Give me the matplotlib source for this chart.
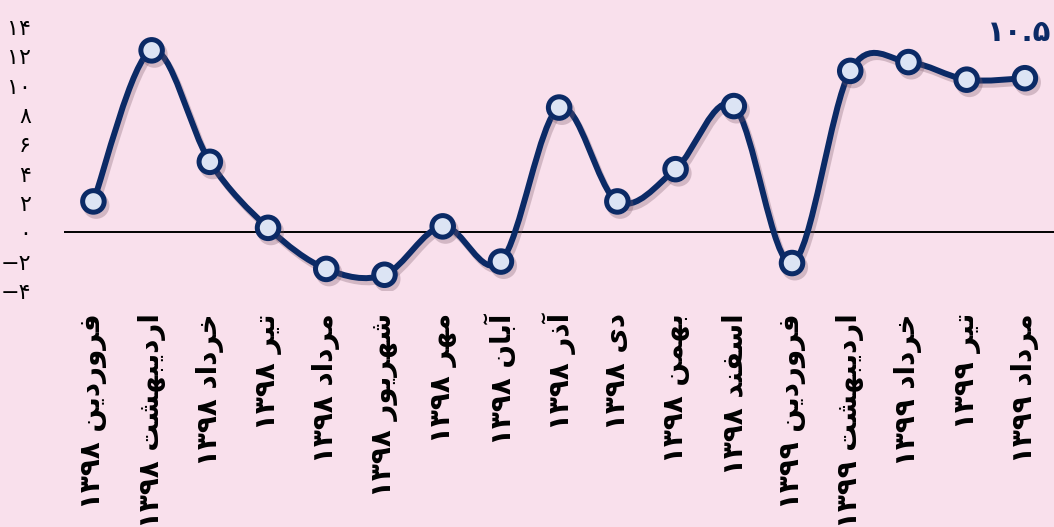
import matplotlib
matplotlib.use("Agg")
import matplotlib.pyplot as plt
import matplotlib.patheffects as pe
from matplotlib.path import Path
from matplotlib.patches import PathPatch

# Data
months = ["فروردین ۱۳۹۸", "اردیبهشت ۱۳۹۸", "خرداد ۱۳۹۸", "تیر ۱۳۹۸", "مرداد ۱۳۹۸",
          "شهریور ۱۳۹۸", "مهر ۱۳۹۸", "آبان ۱۳۹۸", "آذر ۱۳۹۸", "دی ۱۳۹۸",
          "بهمن ۱۳۹۸", "اسفند ۱۳۹۸", "فروردین ۱۳۹۹", "اردیبهشت ۱۳۹۹",
          "خرداد ۱۳۹۹", "تیر ۱۳۹۹", "مرداد ۱۳۹۹"]
values = [2.1, 12.4, 4.8, 0.3, -2.5, -2.9, 0.4, -2.0, 8.5, 2.1,
          4.3, 8.6, -2.1, 11.0, 11.6, 10.4, 10.5]
yticks = [-4, -2, 0, 2, 4, 6, 8, 10, 12, 14]
last_label = "۱۰.۵"

NAVY = "#0b2a66"
FACE = "#dce4f4"
BG = "#f9e0ec"

# simple Persian shaping (matplotlib has no shaping / bidi)
FORMS = {
    "ا": ("\ufe8d", "\ufe8e"), "آ": ("\ufe81", "\ufe82"),
    "د": ("\ufea9", "\ufeaa"), "ذ": ("\ufeab", "\ufeac"),
    "ر": ("\ufead", "\ufeae"), "و": ("\ufeed", "\ufeee"),
    "ب": ("\ufe8f", "\ufe90", "\ufe91", "\ufe92"),
    "ت": ("\ufe95", "\ufe96", "\ufe97", "\ufe98"),
    "خ": ("\ufea5", "\ufea6", "\ufea7", "\ufea8"),
    "س": ("\ufeb1", "\ufeb2", "\ufeb3", "\ufeb4"),
    "ش": ("\ufeb5", "\ufeb6", "\ufeb7", "\ufeb8"),
    "ف": ("\ufed1", "\ufed2", "\ufed3", "\ufed4"),
    "م": ("\ufee1", "\ufee2", "\ufee3", "\ufee4"),
    "ن": ("\ufee5", "\ufee6", "\ufee7", "\ufee8"),
    "ه": ("\ufee9", "\ufeea", "\ufeeb", "\ufeec"),
    "ی": ("\ufbfc", "\ufbfd", "\ufbfe", "\ufbff"),
}


def shape_word(w):
    out = []
    for i, c in enumerate(w):
        if c not in FORMS:
            out.append(c)
            continue
        prev = w[i - 1] if i > 0 else None
        nxt = w[i + 1] if i + 1 < len(w) else None
        jp = prev in FORMS and len(FORMS[prev]) == 4
        jn = len(FORMS[c]) == 4 and nxt in FORMS
        f = FORMS[c]
        if jp and jn:
            out.append(f[3])
        elif jp:
            out.append(f[1])
        elif jn:
            out.append(f[2])
        else:
            out.append(f[0])
    return "".join(out)


def persian(s):
    toks = s.split(" ")
    vis = []
    for t in reversed(toks):
        if t and t[0] in FORMS:
            vis.append(shape_word(t)[::-1])
        else:
            vis.append(t)
    return " ".join(vis)


def fa_num(v):
    d = "۰۱۲۳۴۵۶۷۸۹"
    s = "".join(d[int(ch)] for ch in str(abs(v)))
    return ("\u2212" + s) if v < 0 else s


fig = plt.figure(figsize=(10.54, 5.27), dpi=100, facecolor=BG)
ax = fig.add_axes([0.061, 0.448, 0.939, 0.501])
ax.set_facecolor(BG)

x = list(range(len(values)))

# smoothed line (Excel-like bezier through the points)
verts = [(x[0], values[0])]
codes = [Path.MOVETO]
n = len(values)
for i in range(n - 1):
    p0 = (x[max(i - 1, 0)], values[max(i - 1, 0)])
    p1 = (x[i], values[i])
    p2 = (x[i + 1], values[i + 1])
    p3 = (x[min(i + 2, n - 1)], values[min(i + 2, n - 1)])
    c1 = (p1[0] + (p2[0] - p0[0]) / 6, p1[1] + (p2[1] - p0[1]) / 6)
    c2 = (p2[0] - (p3[0] - p1[0]) / 6, p2[1] - (p3[1] - p1[1]) / 6)
    verts += [c1, c2, p2]
    codes += [Path.CURVE4] * 3

shadow = [pe.SimpleLineShadow(offset=(2, -3), shadow_color="#7a5a6a", alpha=0.3), pe.Normal()]
ax.axhline(0, color="black", lw=1.4, zorder=1)
ax.add_patch(PathPatch(Path(verts, codes), facecolor="none", edgecolor=NAVY,
                       lw=4.3, zorder=2, capstyle="round", path_effects=shadow))
ax.plot(x, values, linestyle="none", marker="o", ms=15.5, mfc=FACE, mec=NAVY,
        mew=3.6, zorder=3, path_effects=shadow)

ax.text(x[-1] + 0.45, 13.6, last_label, color=NAVY, fontsize=21, fontweight="bold",
        ha="right", va="center", clip_on=False)

ax.set_xlim(-0.5, n - 0.5)
ax.set_ylim(-4, 14)
ax.set_yticks(yticks)
ax.set_yticklabels([fa_num(v) for v in yticks], fontsize=16)
ax.set_xticks(x)
ax.set_xticklabels([persian(m) for m in months], rotation=90, fontsize=20,
                   fontweight="bold", va="top", ha="center")
ax.tick_params(axis="y", length=0, pad=24)
ax.tick_params(axis="x", length=0, pad=16)
for s in ax.spines.values():
    s.set_visible(False)

fig.savefig("out.png", dpi=100, facecolor=BG)
